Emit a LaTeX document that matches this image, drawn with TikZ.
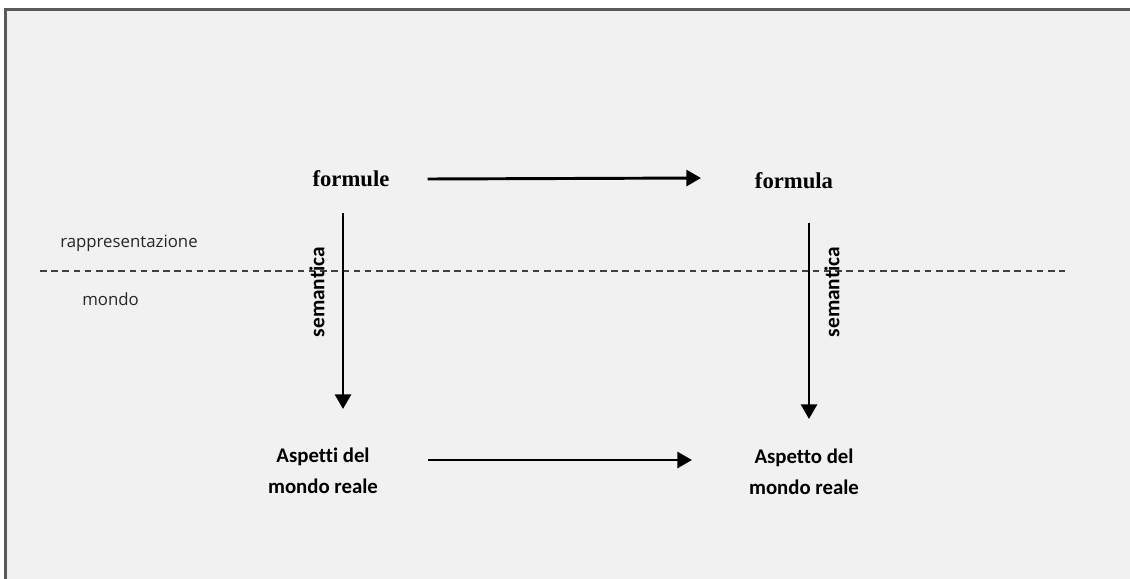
\documentclass[tikz,border=0pt]{standalone}
\usepackage{fontspec}
\setmainfont{Liberation Serif}
\newfontfamily\lblfont[Ligatures=NoCommon]{Open Sans}
\newfontfamily\boldsans[Ligatures=NoCommon]{Carlito}
\usetikzlibrary{arrows.meta,calc}
\definecolor{panel}{HTML}{F1F1F1}
\definecolor{frame}{HTML}{5A5A5A}
\tikzset{
  formulabox/.style={font=\bfseries\fontsize{17}{20}\selectfont, inner sep=0pt},
  worldbox/.style={font=\boldsans\bfseries\fontsize{15.6}{23.5}\selectfont, align=center, inner sep=0pt},
  layerlabel/.style={font=\lblfont\fontsize{12.6}{14}\selectfont, text=black!85, anchor=west, inner sep=0pt},
  semlabel/.style={font=\boldsans\bfseries\fontsize{16}{18}\selectfont, rotate=90, inner sep=0pt},
  mainarrow/.style={line width=2.2pt, -{Triangle[length=11pt,width=12pt]}},
  separator/.style={line width=0.8pt, dash pattern=on 5pt off 3.4pt, draw=black!75}
}
\begin{document}
\begin{tikzpicture}[x=0.75pt,y=-0.75pt]
  % canvas and panel
  \fill[white] (0,0) rectangle (1130,578);
  \useasboundingbox (0,0) rectangle (1130,578);
  \fill[panel] (5.5,9.5) rectangle (1132,580);
  \draw[frame, line width=2.4pt] (5.5,580) -- (5.5,9.5) -- (1132,9.5);

  % boundary between representation and world
  \coordinate (sepL) at (40,271);
  \coordinate (sepR) at (1065,271);
  \draw[separator] (sepL) -- (sepR);
  \node[layerlabel] (rep) at (60,243) {rappresentazione};
  \node[layerlabel] (world) at (82,299) {mondo};

  % formulas
  \node[formulabox] (fs) at (351,179) {formule};
  \node[formulabox] (f) at (794,181) {formula};

  % aspects of the real world
  \node[worldbox] (as) at (323,471) {Aspetti del\\mondo reale};
  \node[worldbox] (a) at (804,472) {Aspetto del\\mondo reale};

  % arrow end points
  \coordinate (lt) at (343,213);
  \coordinate (lb) at (343,409);
  \coordinate (rt) at (809,223);
  \coordinate (rb) at (809,419);

  \draw[mainarrow] (fs.east) ++(38,0) coordinate (ts) -- (701,178) coordinate (te);
  \draw[mainarrow] (as.east) ++(50,-11) coordinate (bs) -- (692,460) coordinate (be);
  \draw[mainarrow] (lt) -- (lb);
  \draw[mainarrow] (rt) -- (rb);

  \node[semlabel] (semL) at (317,292) {semantica};
  \node[semlabel] (semR) at (832,292) {semantica};
\end{tikzpicture}
\end{document}
